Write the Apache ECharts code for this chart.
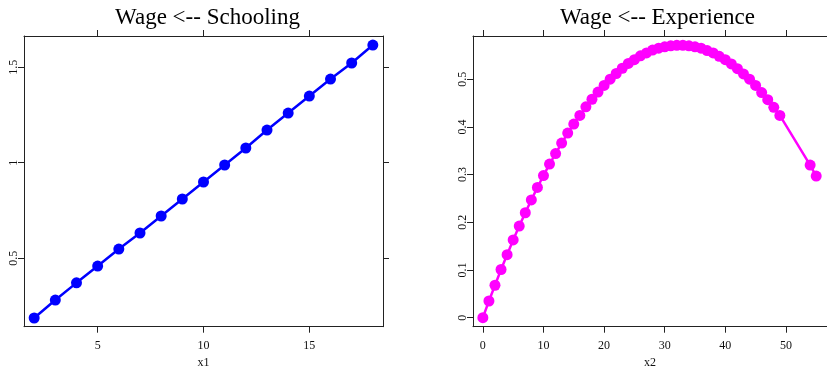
<!DOCTYPE html>
<html>
<head>
<meta charset="utf-8">
<script src="https://cdn.jsdelivr.net/npm/echarts@6/dist/echarts.min.js"></script>
<style>
html,body{margin:0;padding:0;background:#fff;}
#c{width:827px;height:374px;}
</style>
</head>
<body>
<div id="c"></div>
<script>
// ---- data ----
var schoolingX = [2,3,4,5,6,7,8,9,10,11,12,13,14,15,16,17,18];
var schoolingY = [0.187,0.281,0.371,0.459,0.548,0.632,0.721,0.810,0.899,0.988,1.077,1.171,1.260,1.349,1.438,1.522,1.616];
var experienceX = [0,1,2,3,4,5,6,7,8,9,10,11,12,13,14,15,16,17,18,19,20,21,22,23,24,25,26,27,28,29,30,31,32,33,34,35,36,37,38,39,40,41,42,43,44,45,46,47,48,49,54,55];
var experienceY = [0,0.035,0.068,0.101,0.132,0.163,0.192,0.220,0.247,0.273,0.298,0.322,0.344,0.366,0.387,0.406,0.424,0.442,0.458,0.473,0.487,0.500,0.512,0.523,0.533,0.541,0.549,0.555,0.561,0.565,0.568,0.570,0.571,0.571,0.570,0.568,0.565,0.560,0.555,0.548,0.541,0.532,0.522,0.511,0.500,0.487,0.472,0.457,0.441,0.424,0.320,0.297];
var xTicks1 = [5,10,15];
var yTicks1 = [0.5,1,1.5];
var xTicks2 = [0,10,20,30,40,50];
var yTicks2 = [0,0.1,0.2,0.3,0.4,0.5];
var titles = ['Wage <-- Schooling','Wage <-- Experience'];
var xNames = ['x1','x2'];

function pairs(xs, ys){ return xs.map(function(x,i){return [x, ys[i]];}); }

var FONT = 'Liberation Serif';
var AX = '#222';
function xAxisBottom(gi, min, max, ticks, name){
  return {type:'value', gridIndex:gi, position:'bottom', min:min, max:max,
    name:name, nameLocation:'middle', nameGap:30,
    nameTextStyle:{fontFamily:FONT, fontSize:12, color:'#111'},
    axisLine:{show:true, onZero:false, lineStyle:{color:AX, width:1}},
    axisTick:{show:true, length:6, inside:false, customValues:ticks, lineStyle:{color:AX}},
    axisLabel:{show:true, customValues:ticks, margin:13, fontFamily:FONT, fontSize:12, color:'#111'},
    splitLine:{show:false}};
}
function xAxisTop(gi, min, max, ticks){
  return {type:'value', gridIndex:gi, position:'top', min:min, max:max,
    axisLine:{show:true, onZero:false, lineStyle:{color:AX, width:1}},
    axisTick:{show:true, length:6, customValues:ticks, lineStyle:{color:AX}},
    axisLabel:{show:false}, splitLine:{show:false}};
}
function yAxisLeft(gi, min, max, ticks){
  return {type:'value', gridIndex:gi, position:'left', min:min, max:max,
    axisLine:{show:true, onZero:false, lineStyle:{color:AX, width:1}},
    axisTick:{show:true, length:6, customValues:ticks, lineStyle:{color:AX}},
    axisLabel:{show:true, customValues:ticks, rotate:90, margin:4, fontFamily:FONT, fontSize:12, color:'#111'},
    splitLine:{show:false}};
}
function yAxisRight(gi, min, max, ticks, showLine){
  return {type:'value', gridIndex:gi, position:'right', min:min, max:max,
    axisLine:{show:showLine, onZero:false, lineStyle:{color:AX, width:1}},
    axisTick:{show:showLine, length:6, customValues:ticks, lineStyle:{color:AX}},
    axisLabel:{show:false}, splitLine:{show:false}};
}

var chart = echarts.init(document.getElementById('c'), null, {renderer:'canvas'});
chart.setOption({
  animation:false,
  backgroundColor:'#fff',
  title:[
    {text:titles[0], left:202.5, top:1, textAlign:'center', textStyle:{fontFamily:FONT, fontSize:23, fontWeight:'normal', color:'#000'}},
    {text:titles[1], left:652.5, top:1, textAlign:'center', textStyle:{fontFamily:FONT, fontSize:23, fontWeight:'normal', color:'#000'}}
  ],
  grid:[
    {left:24, top:36, width:359, height:290.7},
    {left:473, top:36, width:359, height:290.7}
  ],
  xAxis:[
    xAxisBottom(0, 1.52, 18.48, xTicks1, xNames[0]),
    xAxisTop(0, 1.52, 18.48, xTicks1),
    xAxisBottom(1, -1.627, 56.78, xTicks2, xNames[1]),
    xAxisTop(1, -1.627, 56.78, xTicks2)
  ],
  yAxis:[
    yAxisLeft(0, 0.1414, 1.6634, yTicks1),
    yAxisRight(0, 0.1414, 1.6634, yTicks1, true),
    yAxisLeft(1, -0.0189, 0.5906, yTicks2),
    yAxisRight(1, -0.0189, 0.5906, yTicks2, false)
  ],
  series:[
    {type:'line', xAxisIndex:0, yAxisIndex:0, data:pairs(schoolingX, schoolingY),
      symbol:'circle', symbolSize:11, showAllSymbol:true,
      lineStyle:{color:'#0000ff', width:2.5}, itemStyle:{color:'#0000ff'}},
    {type:'line', xAxisIndex:2, yAxisIndex:2, data:pairs(experienceX, experienceY),
      symbol:'circle', symbolSize:11, showAllSymbol:true,
      lineStyle:{color:'#ff00ff', width:2.5}, itemStyle:{color:'#ff00ff'}}
  ]
});
</script>
</body>
</html>
